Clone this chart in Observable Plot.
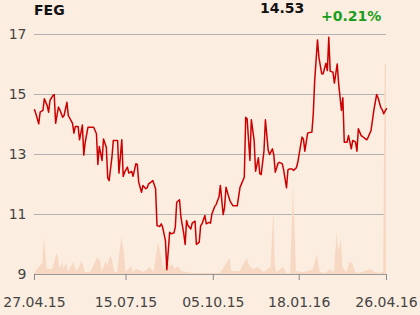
<!DOCTYPE html>
<html>
<head>
<meta charset="utf-8">
<script src="https://cdn.jsdelivr.net/npm/d3@7"></script>
<script src="https://cdn.jsdelivr.net/npm/@observablehq/plot@0.6"></script>
<style>
  html, body { margin: 0; padding: 0; background: #fcede1; }
  #wrap { position: relative; width: 420px; height: 315px; font-family: "DejaVu Sans", sans-serif; }
  .t { position: absolute; font-weight: bold; font-size: 14px; line-height: 16px; white-space: nowrap; }
</style>
</head>
<body>
<div id="wrap">
  <div class="t" id="sym" style="left:34px; top:2px; color:#111;"></div>
  <div class="t" id="last" style="left:260px; top:0px; color:#111;"></div>
  <div class="t" id="chg" style="left:321px; top:8px; color:#1a9e1a;"></div>
</div>
<script>
const symbol = "FEG";
const lastPrice = "14.53";
const change = "+0.21%";

// trading-day index of each close
const days = [0,1,3,4,6,7,9,10,11,13,14,15,17,18,20,21,23,24,26,27,
  28,29,31,32,34,35,36,38,42,44,45,46,48,49,51,52,53,55,56,59,
  60,62,63,64,66,67,69,70,72,73,74,76,77,79,80,81,83,84,86,87,
  89,90,91,93,94,96,97,99,100,101,103,104,106,107,108,109,111,112,114,115,
  117,118,119,121,122,124,125,126,128,129,131,132,134,135,136,138,139,141,142,144,
  146,147,149,150,151,153,154,156,157,159,160,161,163,164,166,167,169,170,171,173,
  174,176,177,179,180,181,183,184,186,187,188,190,191,192,194,195,197,198,199,201,
  202,204,205,207,208,209,210,212,213,215,216,218,219,220,222,223,225,226,228,229,
  230,232,233,235,236,237,239,240,241,243,244,246,247,248,250];
const close = [14.49,14.36,14.02,14.41,14.47,14.86,14.63,14.41,14.80,14.96,15.00,14.04,14.58,14.49,14.24,14.30,14.74,14.30,14.13,14.04,
  13.71,13.93,13.93,13.49,13.98,12.98,13.40,13.91,13.91,13.69,12.67,13.27,12.80,13.52,13.24,12.22,12.13,12.91,13.47,13.47,
  12.38,13.49,12.27,12.41,12.58,12.38,12.44,12.27,12.69,12.67,12.08,11.74,11.97,11.86,11.89,12.02,12.09,12.13,11.86,10.63,
  10.60,10.69,10.58,10.13,9.16,10.41,10.36,10.38,10.58,11.41,11.49,10.91,10.36,10.00,10.80,10.63,10.52,10.71,10.78,10.00,
  10.08,10.63,10.69,10.97,10.69,10.74,10.71,11.02,11.27,11.33,11.58,11.97,11.00,11.24,11.91,11.58,11.44,11.29,11.29,11.29,
  11.91,12.02,12.24,14.24,14.19,12.80,14.16,13.47,12.44,12.89,12.36,12.33,13.13,14.16,13.13,13.00,13.19,12.97,12.41,12.71,
  12.74,12.69,12.47,11.89,12.49,12.52,12.52,12.47,12.56,12.74,13.02,13.58,13.52,13.11,13.71,13.73,13.74,14.36,15.47,16.82,
  16.24,15.69,15.69,16.04,15.80,16.91,15.78,15.74,15.38,16.02,15.36,14.47,14.89,13.41,13.41,13.63,13.19,13.47,13.41,13.11,
  13.86,13.63,13.60,13.52,13.49,13.58,13.80,14.13,14.47,15.00,14.89,14.56,14.49,14.36,14.53];

// volume (thousands of shares)
const volDays = [0,1,4,6,7,9,13,16,17,18,20,21,23,24,28,30,34,36,40,45,
  47,48,51,52,54,55,57,59,62,64,65,69,70,72,73,78,82,85,88,90,
  92,94,97,98,100,102,105,108,113,123,132,139,140,146,151,153,156,159,163,168,
  170,171,172,177,179,182,184,186,191,195,198,201,203,207,210,213,215,216,218,219,
  222,224,226,228,231,239,242,246,248,249,250];
const volume = [0,3,8,12,37,5,5,21,17,5,12,5,12,2,12,3,13,2,2,17,
  13,3,13,8,18,17,2,2,37,20,2,8,2,5,5,2,7,2,32,20,
  5,13,8,10,5,8,3,2,1,1,1,16,3,3,16,8,5,7,2,7,
  65,10,2,7,1,1,88,3,2,3,5,20,2,1,5,2,42,23,35,7,
  2,12,11,2,1,5,2,1,3,209,209];

const yTicks = [9, 11, 13, 15, 17];
const xTickDays = [0, 65, 127, 188, 250];
const xTickLabels = ["27.04.15", "15.07.15", "05.10.15", "18.01.16", "26.04.16"];

document.getElementById("sym").textContent = symbol;
document.getElementById("last").textContent = lastPrice;
document.getElementById("chg").textContent = change;

const priceRows = days.map((d, i) => ({day: d, close: close[i]}));
const vMax = d3.max(volume);
const volRows = volDays.map((d, i) => ({day: d, v: 9 + volume[i] / vMax * 7}));
const labelOf = new Map(xTickDays.map((d, i) => [d, xTickLabels[i]]));

const chart = Plot.plot({
  width: 420,
  height: 315,
  marginLeft: 34,
  marginRight: 34,
  marginTop: 34,
  marginBottom: 41,
  style: {background: "transparent", fontFamily: "DejaVu Sans", fontSize: "14px", color: "#444"},
  x: {type: "linear", domain: [0, 250], axis: null},
  y: {domain: [9, 17], axis: null},
  marks: [
    Plot.ruleY(yTicks.filter(v => v > 9), {stroke: "#b3b3b3", strokeWidth: 1}),
    Plot.areaY(volRows, {x: "day", y1: 9, y2: "v", fill: "#f7d9c3", curve: "linear"}),
    Plot.line(priceRows, {x: "day", y: "close", stroke: "#cc0000", strokeWidth: 1.5}),
    Plot.ruleY([9], {stroke: "#999", strokeWidth: 1}),
    Plot.axisX({ticks: xTickDays, tickFormat: d => labelOf.get(d), label: null, tickSize: 6, tickPadding: 17, stroke: "#888", fill: "#444", fontSize: 14}),
    Plot.axisY({ticks: yTicks, tickFormat: d => String(d), label: null, tickSize: 0, tickPadding: 8, fill: "#444", fontSize: 14})
  ]
});
chart.style.position = "absolute";
chart.style.left = "0px";
chart.style.top = "0px";
document.getElementById("wrap").prepend(chart);
</script>
</body>
</html>
